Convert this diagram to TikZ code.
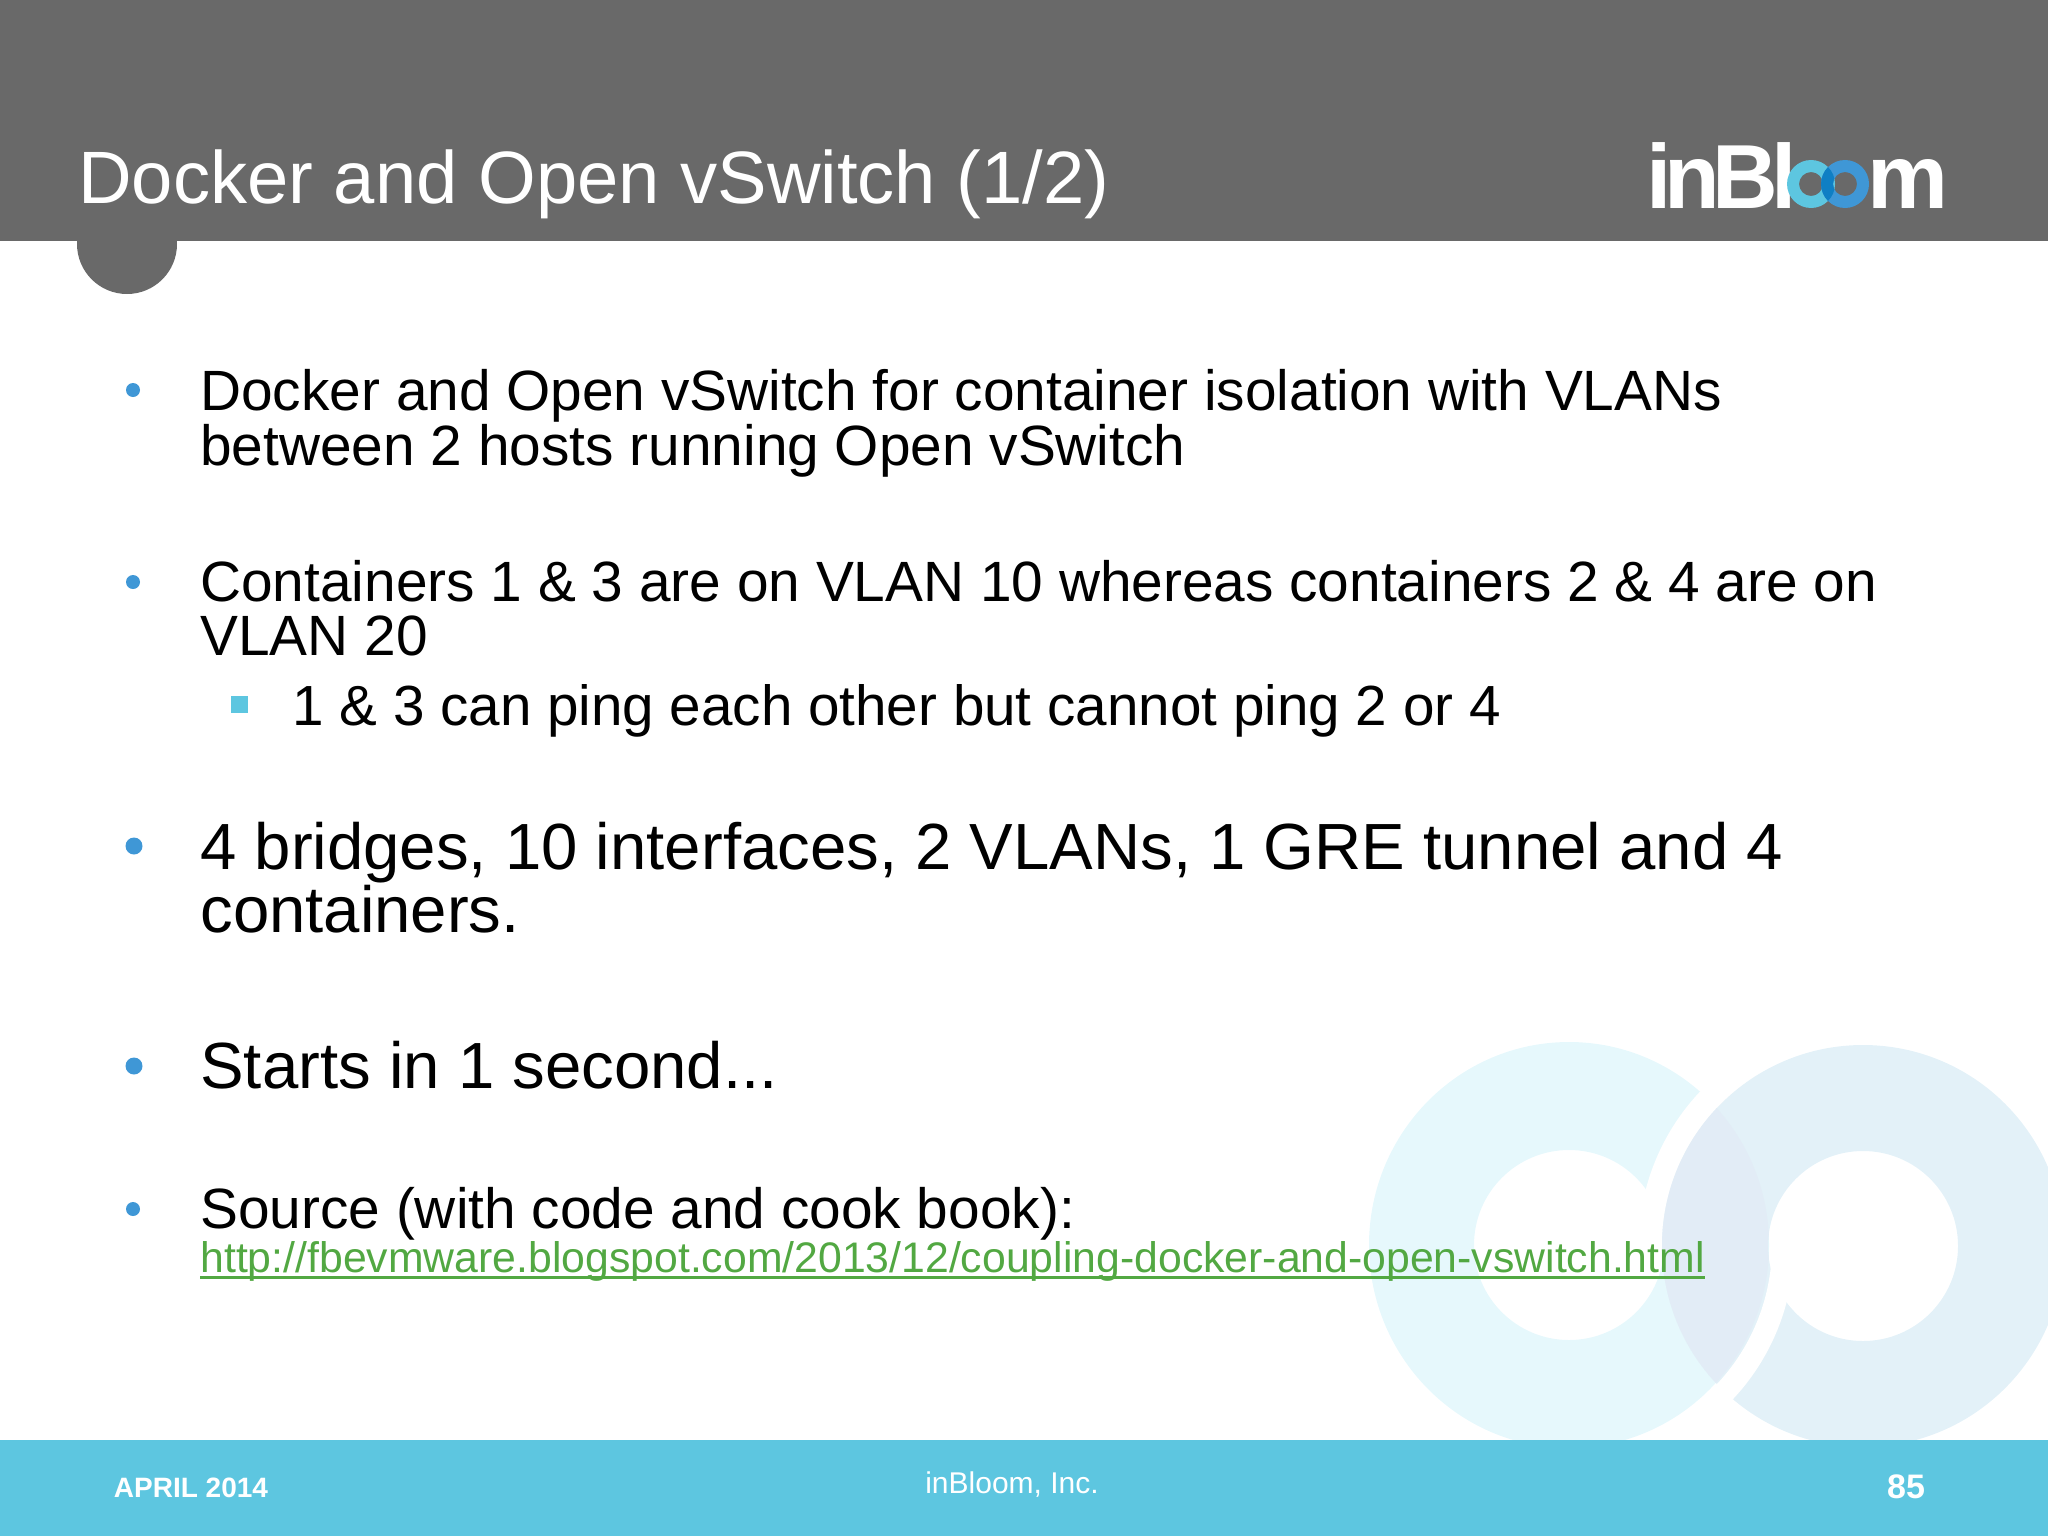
\documentclass[tikz,border=0pt]{standalone}
\usepackage{fontspec}
\setmainfont{Liberation Sans}
\definecolor{headgray}{HTML}{696969}
\definecolor{footblue}{HTML}{5DC6E0}
\definecolor{dotblue}{HTML}{3F97D6}
\definecolor{urlgreen}{HTML}{52A842}
\definecolor{wmleft}{HTML}{E6F8FC}
\definecolor{wmright}{HTML}{E3F1F8}
\definecolor{wmboth}{HTML}{E2ECF6}
\definecolor{logoboth}{HTML}{0F7FC4}
\tikzset{
  line/.style={anchor=base west, inner sep=0pt, text=black},
  linea/.style={line, font=\fontsize{28.4}{30}\selectfont},
  lineb/.style={line, font=\fontsize{32.65}{34}\selectfont},
  bullet/.style={circle, fill=dotblue, inner sep=0pt, minimum size=7pt},
  foot/.style={inner sep=0pt, text=white, anchor=base}
}
\begin{document}
\begin{tikzpicture}[x=0.5pt, y=-0.5pt]
\useasboundingbox (0,0) rectangle (2048,1536);
\coordinate (WL) at (1569,1245);
\coordinate (WR) at (1863,1246);
\fill[wmleft, even odd rule] (WL) circle[x radius=200, y radius=203] (WL) circle[radius=95];
\draw[white, line width=12.5pt] (WR) ++(185:212) arc[start angle=185, end angle=240, radius=212];
\fill[wmright, even odd rule] (WR) circle[radius=201] (WR) circle[radius=95];
\begin{scope}
\clip (WL) circle[x radius=200, y radius=203];
\fill[wmboth, even odd rule] (WR) circle[radius=201] (WR) circle[radius=95];
\end{scope}
\draw[white, line width=11pt] (WL) ++(-5:214) arc[start angle=-5, end angle=50, radius=214];
\fill[headgray] (0,0) rectangle (2048,241);
\fill[headgray] (127,244) circle[radius=50];
\fill[footblue] (0,1440) rectangle (2048,1536);
\node[line, text=white, font=\fontsize{37.1}{40}\selectfont] (title) at (78,203) {Docker and Open vSwitch (1/2)};
\node[line, text=white, font=\fontsize{45.5}{48}\selectfont\bfseries\addfontfeature{LetterSpace=-8}] (logoa) at (1646,208) {inBl};
\node[line, text=white, font=\fontsize{45.5}{48}\selectfont\bfseries] (logob) at (1867,208) {m};
\coordinate (LL) at (1811,184);
\coordinate (LR) at (1845,184);
\fill[footblue, even odd rule] (LL) circle[radius=24] (LL) circle[radius=12];
\fill[dotblue, even odd rule] (LR) circle[radius=24] (LR) circle[radius=12];
\begin{scope}
\clip (LL) circle[radius=24];
\fill[logoboth, even odd rule] (LR) circle[radius=24] (LR) circle[radius=12];
\end{scope}
\node[linea] (t1) at (200,410) {Docker and Open vSwitch for container isolation with VLANs};
\node[linea] (t2) at (200,465) {between 2 hosts running Open vSwitch};
\node[linea] (t3) at (200,601) {Containers 1 \& 3 are on VLAN 10 whereas containers 2 \& 4 are on};
\node[linea] (t4) at (200,655) {VLAN 20};
\node[line, font=\fontsize{28.3}{30}\selectfont] (t5) at (292,725) {1 \& 3 can ping each other but cannot ping 2 or 4};
\node[lineb] (t6) at (200,869) {4 bridges, 10 interfaces, 2 VLANs, 1 GRE tunnel and 4};
\node[lineb] (t7) at (200,932) {containers.};
\node[lineb] (t8) at (200,1088) {Starts in 1 second...};
\node[linea] (t9) at (200,1228) {Source (with code and cook book):};
\node[line, text=urlgreen, font=\fontsize{21.38}{24}\selectfont] (url) at (200,1272) {http://fbevmware.blogspot.com/2013/12/coupling-docker-and-open-vswitch.html};
\draw[urlgreen, line width=1.5pt] ([yshift=-2.8pt]url.base west) -- ([yshift=-2.8pt]url.base east);
\node[bullet] (b1) at (133,390) {};
\node[bullet] (b2) at (133,582) {};
\node[bullet, minimum size=8.5pt] (b3) at (134,846) {};
\node[bullet, minimum size=8.5pt] (b4) at (134,1066) {};
\node[bullet] (b5) at (133,1209) {};
\node[rectangle, fill=footblue, inner sep=0pt, minimum size=8.5pt] (b6) at (239,704) {};
\node[foot, font=\fontsize{14}{16}\selectfont\bfseries] (fdate) at (191,1497) {APRIL 2014};
\node[foot, font=\fontsize{15}{17}\selectfont] (fname) at (1012,1493) {inBloom, Inc.};
\node[foot, font=\fontsize{17}{19}\selectfont\bfseries] (fnum) at (1906,1498) {85};
\end{tikzpicture}
\end{document}
